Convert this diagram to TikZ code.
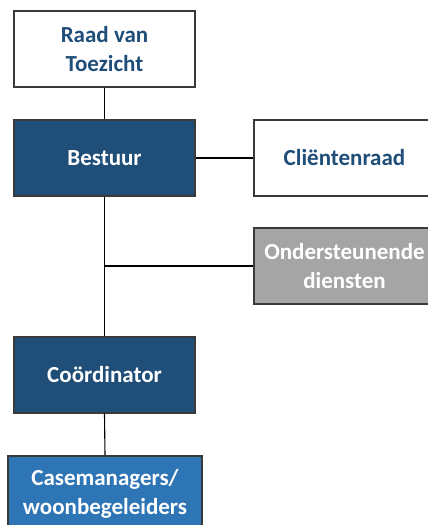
\documentclass[tikz,border=0pt]{standalone}
\usepackage{fontspec}
\setmainfont{Carlito}
\definecolor{navy}{HTML}{1F4E79}
\definecolor{midblue}{HTML}{2E75B6}
\definecolor{grayfill}{HTML}{A5A5A5}
\definecolor{edge}{HTML}{3A3A3A}
\begin{document}
\begin{tikzpicture}[x=1pt,y=-1pt,
  box/.style={draw=edge, line width=1.3pt, rectangle, minimum width=181pt, minimum height=76pt,
    inner sep=0pt, align=center, font=\fontsize{23}{28.5}\selectfont\bfseries},
  whitebox/.style={box, fill=white, text=navy},
  darkbox/.style={box, fill=navy, text=white},
  greybox/.style={box, fill=grayfill, text=white},
  lightbox/.style={box, fill=midblue, text=white, minimum width=194pt},
  link/.style={draw=black, line width=1.1pt}]
\useasboundingbox (0,0) rectangle (428,525);
\fill[white] (0,0) rectangle (428,525);
\begin{scope}
\clip (0,0) rectangle (428,525);
\node[whitebox] (rvt) at (104.5,49) {Raad van\\Toezicht};
\node[darkbox] (bestuur) at (104.5,158) {Bestuur};
\node[whitebox] (client) at (344.5,158) {Cliëntenraad};
\node[greybox] (ond) at (344.5,266) {Ondersteunende\\diensten};
\node[darkbox] (coord) at (104.5,375) {Coördinator};
\node[lightbox] (case) at (105,494) {Casemanagers/\\woonbegeleiders};
\coordinate (branch) at (bestuur.south |- ond.west);
\draw[link] (rvt.south) -- (bestuur.north);
\draw[link] (bestuur.east) -- (client.west);
\draw[link] (bestuur.south) -- (coord.north);
\draw[link] (branch) -- (ond.west);
\draw[link] (coord.south) -- (case.north);
\end{scope}
\end{tikzpicture}
\end{document}
